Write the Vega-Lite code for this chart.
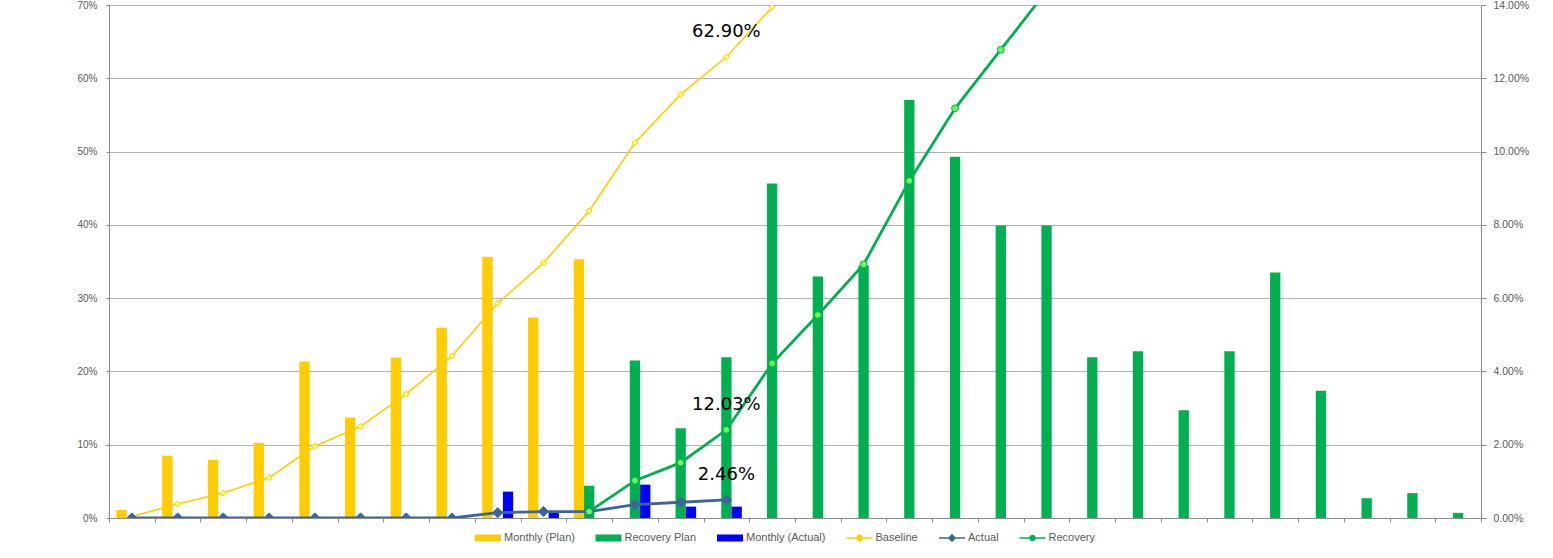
{
  "$schema": "https://vega.github.io/schema/vega-lite/v6.json",
  "width": 1372,
  "height": 513,
  "autosize": {"type": "none"},
  "padding": {"left": 109, "top": 5, "right": 72, "bottom": 40},
  "config": {
    "view": {"stroke": null},
    "font": "Liberation Sans",
    "axis": {"labelFont": "Liberation Sans", "labelColor": "#595959", "domainColor": "#8c8c8c", "tickColor": "#8c8c8c", "gridColor": "#b3b3b3", "title": null}
  },
  "datasets": {
    "bars": [
      {"m": 1, "series": "Monthly (Plan)", "value": 0.0022},
      {"m": 2, "series": "Monthly (Plan)", "value": 0.0170},
      {"m": 3, "series": "Monthly (Plan)", "value": 0.0159},
      {"m": 4, "series": "Monthly (Plan)", "value": 0.0205},
      {"m": 5, "series": "Monthly (Plan)", "value": 0.0427},
      {"m": 6, "series": "Monthly (Plan)", "value": 0.0274},
      {"m": 7, "series": "Monthly (Plan)", "value": 0.0438},
      {"m": 8, "series": "Monthly (Plan)", "value": 0.0519},
      {"m": 9, "series": "Monthly (Plan)", "value": 0.0713},
      {"m": 10, "series": "Monthly (Plan)", "value": 0.0547},
      {"m": 11, "series": "Monthly (Plan)", "value": 0.0706},
      {"m": 11, "series": "Recovery Plan", "value": 0.0088},
      {"m": 12, "series": "Recovery Plan", "value": 0.0430},
      {"m": 13, "series": "Recovery Plan", "value": 0.0245},
      {"m": 14, "series": "Recovery Plan", "value": 0.0439},
      {"m": 15, "series": "Recovery Plan", "value": 0.0913},
      {"m": 16, "series": "Recovery Plan", "value": 0.0659},
      {"m": 17, "series": "Recovery Plan", "value": 0.0689},
      {"m": 18, "series": "Recovery Plan", "value": 0.1141},
      {"m": 19, "series": "Recovery Plan", "value": 0.0986},
      {"m": 20, "series": "Recovery Plan", "value": 0.0798},
      {"m": 21, "series": "Recovery Plan", "value": 0.0798},
      {"m": 22, "series": "Recovery Plan", "value": 0.0439},
      {"m": 23, "series": "Recovery Plan", "value": 0.0455},
      {"m": 24, "series": "Recovery Plan", "value": 0.0294},
      {"m": 25, "series": "Recovery Plan", "value": 0.0455},
      {"m": 26, "series": "Recovery Plan", "value": 0.0670},
      {"m": 27, "series": "Recovery Plan", "value": 0.0347},
      {"m": 28, "series": "Recovery Plan", "value": 0.0054},
      {"m": 29, "series": "Recovery Plan", "value": 0.0068},
      {"m": 30, "series": "Recovery Plan", "value": 0.0014},
      {"m": 9, "series": "Monthly (Actual)", "value": 0.0072},
      {"m": 10, "series": "Monthly (Actual)", "value": 0.0016},
      {"m": 12, "series": "Monthly (Actual)", "value": 0.0091},
      {"m": 13, "series": "Monthly (Actual)", "value": 0.0031},
      {"m": 14, "series": "Monthly (Actual)", "value": 0.0031}
    ],
    "lines": [
      {"m": 1, "series": "Baseline", "value": 0.002},
      {"m": 2, "series": "Baseline", "value": 0.019},
      {"m": 3, "series": "Baseline", "value": 0.034},
      {"m": 4, "series": "Baseline", "value": 0.055},
      {"m": 5, "series": "Baseline", "value": 0.098},
      {"m": 6, "series": "Baseline", "value": 0.125},
      {"m": 7, "series": "Baseline", "value": 0.169},
      {"m": 8, "series": "Baseline", "value": 0.221},
      {"m": 9, "series": "Baseline", "value": 0.293},
      {"m": 10, "series": "Baseline", "value": 0.348},
      {"m": 11, "series": "Baseline", "value": 0.419},
      {"m": 12, "series": "Baseline", "value": 0.512},
      {"m": 13, "series": "Baseline", "value": 0.578},
      {"m": 14, "series": "Baseline", "value": 0.629},
      {"m": 15, "series": "Baseline", "value": 0.697},
      {"m": 16, "series": "Baseline", "value": 0.76},
      {"m": 1, "series": "Actual", "value": 0},
      {"m": 2, "series": "Actual", "value": 0},
      {"m": 3, "series": "Actual", "value": 0},
      {"m": 4, "series": "Actual", "value": 0},
      {"m": 5, "series": "Actual", "value": 0},
      {"m": 6, "series": "Actual", "value": 0},
      {"m": 7, "series": "Actual", "value": 0},
      {"m": 8, "series": "Actual", "value": 0},
      {"m": 9, "series": "Actual", "value": 0.0072},
      {"m": 10, "series": "Actual", "value": 0.0088},
      {"m": 11, "series": "Actual", "value": 0.0088},
      {"m": 12, "series": "Actual", "value": 0.0183},
      {"m": 13, "series": "Actual", "value": 0.0215},
      {"m": 14, "series": "Actual", "value": 0.0246},
      {"m": 11, "series": "Recovery", "value": 0.0088},
      {"m": 12, "series": "Recovery", "value": 0.051},
      {"m": 13, "series": "Recovery", "value": 0.0755},
      {"m": 14, "series": "Recovery", "value": 0.1203},
      {"m": 15, "series": "Recovery", "value": 0.211},
      {"m": 16, "series": "Recovery", "value": 0.277},
      {"m": 17, "series": "Recovery", "value": 0.346},
      {"m": 18, "series": "Recovery", "value": 0.460},
      {"m": 19, "series": "Recovery", "value": 0.559},
      {"m": 20, "series": "Recovery", "value": 0.639},
      {"m": 21, "series": "Recovery", "value": 0.719},
      {"m": 22, "series": "Recovery", "value": 0.763}
    ],
    "labels": [
      {"m": 14, "series": "Baseline", "value": 0.629},
      {"m": 14, "series": "Recovery", "value": 0.1203},
      {"m": 14, "series": "Actual", "value": 0.0246}
    ]
  },
  "layer": [
    {
      "data": {"name": "bars"},
      "mark": {"type": "bar"},
      "encoding": {
        "x": {
          "field": "m", "type": "ordinal",
          "scale": {"domain": [1,2,3,4,5,6,7,8,9,10,11,12,13,14,15,16,17,18,19,20,21,22,23,24,25,26,27,28,29,30], "paddingInner": 0, "paddingOuter": 0},
          "axis": {"labels": false, "ticks": true, "tickBand": "extent", "tickSize": 4, "grid": false, "title": null, "domainColor": "#8c8c8c", "tickColor": "#8c8c8c"}
        },
        "xOffset": {
          "field": "series", "type": "nominal",
          "scale": {"domain": ["Monthly (Plan)", "Recovery Plan", "Monthly (Actual)"], "paddingInner": 0, "paddingOuter": 0.72}
        },
        "y": {
          "field": "value", "type": "quantitative",
          "scale": {"domain": [0, 0.14], "nice": false, "zero": true},
          "axis": {"orient": "right", "values": [0, 0.02, 0.04, 0.06, 0.08, 0.1, 0.12, 0.14], "format": ".2%", "grid": false, "tickSize": 5, "labelPadding": 7, "labelFontSize": 10.5, "title": null}
        },
        "color": {
          "field": "series", "type": "nominal",
          "scale": {
            "domain": ["Monthly (Plan)", "Recovery Plan", "Monthly (Actual)", "Baseline", "Actual", "Recovery"],
            "range": ["#FFCC00", "#00B050", "#0000FF", "#FFCC00", "#3C6699", "#00B050"]
          },
          "legend": {
            "orient": "none",
            "legendX": 366,
            "legendY": 520,
            "direction": "horizontal",
            "columns": 6,
            "title": null,
            "symbolSize": 676,
            "labelFontSize": 11,
            "labelFont": "Liberation Sans",
            "labelColor": "#595959",
            "labelOffset": 3,
            "columnPadding": 20.5,
            "encode": {
              "symbols": {
                "update": {
                  "shape": {"signal": "indexof(['Monthly (Plan)','Recovery Plan','Monthly (Actual)'], datum.value) >= 0 ? 'M-1,-0.27H1V0.27H-1Z' : (datum.value == 'Recovery' ? 'M-1,-0.06H1V0.06H-1Z M0.25,0A0.25,0.25 0 1 1 -0.25,0A0.25,0.25 0 1 1 0.25,0Z' : 'M-1,-0.06H1V0.06H-1Z M-0.32,0L0,-0.32L0.32,0L0,0.32Z')"},
                  "fill": {"scale": "color", "field": "value"},
                  "stroke": {"value": "transparent"},
                  "strokeWidth": {"value": 0},
                  "opacity": {"value": 1},
                  "fillOpacity": {"value": 1}
                }
              }
            }
          }
        }
      }
    },
    {
      "layer": [
        {
          "data": {"name": "lines"},
          "mark": {"type": "line", "clip": true},
          "encoding": {
            "x": {"field": "m", "type": "ordinal"},
            "y": {
              "field": "value", "type": "quantitative",
              "scale": {"domain": [0, 0.7], "nice": false, "zero": true},
              "axis": {"orient": "left", "values": [0, 0.1, 0.2, 0.3, 0.4, 0.5, 0.6, 0.7], "format": ".0%", "grid": true, "tickSize": 3, "labelPadding": 9, "labelFontSize": 10, "title": null}
            },
            "color": {"field": "series", "type": "nominal"},
            "strokeWidth": {
              "field": "series", "type": "nominal",
              "scale": {"type": "ordinal", "domain": ["Baseline", "Actual", "Recovery"], "range": [1.6, 2.8, 2.8]},
              "legend": null
            }
          }
        },
        {
          "data": {"name": "lines"},
          "mark": {"type": "point", "filled": true, "clip": true, "strokeWidth": 1, "opacity": 1},
          "encoding": {
            "x": {"field": "m", "type": "ordinal"},
            "y": {"field": "value", "type": "quantitative"},
            "shape": {
              "field": "series", "type": "nominal",
              "scale": {"domain": ["Baseline", "Actual", "Recovery"], "range": ["diamond", "diamond", "circle"]},
              "legend": null
            },
            "fill": {
              "field": "series", "type": "nominal",
              "scale": {"domain": ["Baseline", "Actual", "Recovery"], "range": ["#FFFF66", "#3C6699", "#66FF55"]},
              "legend": null
            },
            "stroke": {
              "field": "series", "type": "nominal",
              "scale": {"domain": ["Baseline", "Actual", "Recovery"], "range": ["#FFCC00", "#3C6699", "#00B050"]},
              "legend": null
            },
            "size": {
              "field": "series", "type": "nominal",
              "scale": {"type": "ordinal", "domain": ["Baseline", "Actual", "Recovery"], "range": [38, 105, 46]},
              "legend": null
            }
          }
        },
        {
          "data": {"name": "labels"},
          "mark": {"type": "text", "dy": -25, "font": "DejaVu Sans", "fontSize": 18, "color": "#000000", "align": "center", "baseline": "middle"},
          "encoding": {
            "x": {"field": "m", "type": "ordinal"},
            "y": {"field": "value", "type": "quantitative"},
            "text": {"field": "value", "type": "quantitative", "format": ".2%"}
          }
        }
      ]
    }
  ],
  "resolve": {"scale": {"y": "independent"}}
}
